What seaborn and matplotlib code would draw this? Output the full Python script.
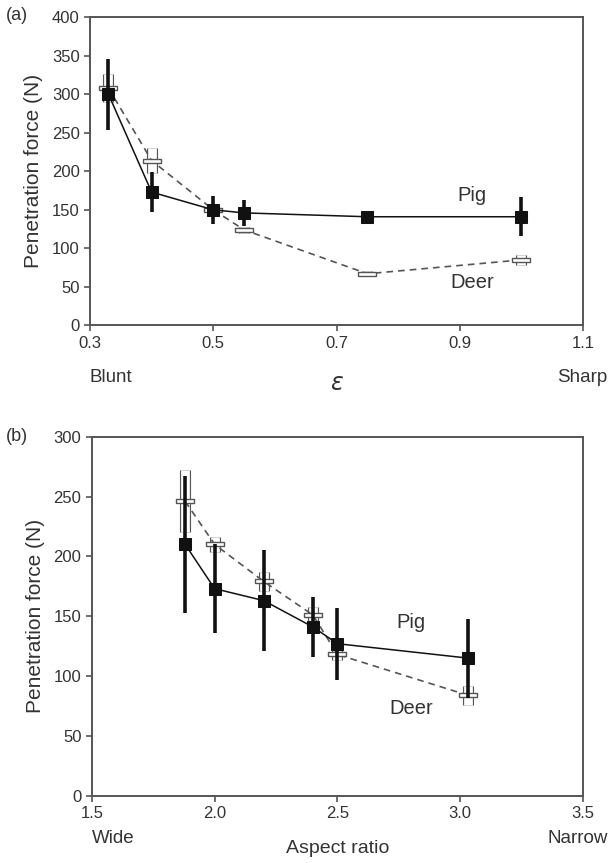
# Penetration force vs. blade sharpness (a) and aspect ratio (b), pig vs deer
import numpy as np
import pandas as pd
import matplotlib
matplotlib.use("Agg")
import matplotlib.pyplot as plt
import seaborn as sns

# Panel (a) data
eps = [0.33, 0.40, 0.50, 0.55, 0.75, 1.00]
pig_a = [300, 173, 150, 146, 141, 141]
pig_a_err = [46, 26, 18, 17, 6, 25]
deer_a = [308, 214, 150, 124, 67, 85]
deer_a_err = [18, 16, 5, 4, 3, 6]

# Panel (b) data
aspect = [1.88, 2.00, 2.20, 2.40, 2.50, 3.03]
pig_b = [210, 173, 163, 141, 127, 115]
pig_b_err = [57, 37, 42, 25, 30, 33]
deer_b = [246, 210, 179, 151, 118, 84]
deer_b_err = [26, 6, 8, 7, 5, 8]

sns.set_style("ticks")
plt.rcParams['font.family'] = ['Liberation Sans', 'DejaVu Sans']

fig = plt.figure(figsize=(6.08, 8.63), dpi=100)
ax_a = fig.add_axes([0.148, 0.623, 0.811, 0.357])
ax_b = fig.add_axes([0.151, 0.078, 0.808, 0.416])

# flat rectangle marker for the deer points
flat_box = [(-1, -0.25), (1, -0.25), (1, 0.25), (-1, 0.25), (-1, -0.25)]
GRAY = "#555555"
TXT = "#333333"


def draw_panel(ax, x, pig, pig_err, deer, deer_err):
    df = pd.DataFrame({"x": x, "pig": pig, "deer": deer})
    # deer: open boxes as error bars, dashed line
    ax.errorbar(x, deer, yerr=deer_err, fmt="none", ecolor=GRAY, elinewidth=8, capsize=0, zorder=2)
    ax.errorbar(x, deer, yerr=deer_err, fmt="none", ecolor="white", elinewidth=6.3, capsize=0, zorder=2.1)
    sns.lineplot(data=df, x="x", y="deer", ax=ax, color=GRAY, lw=1.2, linestyle=(0, (4, 3)),
                 zorder=2.2)
    ax.scatter(x, deer, marker=flat_box, s=160, facecolor="white", edgecolor=GRAY, lw=1, zorder=2.3)
    # pig: filled squares, solid line
    ax.errorbar(x, pig, yerr=pig_err, fmt="none", ecolor="#111111", elinewidth=2.6, capsize=0, zorder=3)
    sns.lineplot(data=df, x="x", y="pig", ax=ax, color="#111111", lw=1.1, marker="s",
                 markersize=9, markeredgecolor="#111111", zorder=3.1)
    ax.set_xlabel("")
    ax.set_ylabel("Penetration force (N)", fontsize=15, color=TXT, labelpad=6)
    for s in ax.spines.values():
        s.set_color(GRAY)
        s.set_linewidth(1.4)
    ax.tick_params(labelsize=12, colors=GRAY, labelcolor=TXT, length=4, width=1.2)


draw_panel(ax_a, eps, pig_a, pig_a_err, deer_a, deer_a_err)
ax_a.set_xlim(0.3, 1.1)
ax_a.set_ylim(0, 400)
ax_a.set_xticks([0.3, 0.5, 0.7, 0.9, 1.1])
ax_a.set_yticks(np.arange(0, 401, 50))
ax_a.text(0.92, 169, "Pig", fontsize=14.5, color=TXT, ha="center", va="center")
ax_a.text(0.92, 55, "Deer", fontsize=14.5, color=TXT, ha="center", va="center")
ax_a.text(0.0, -0.17, "Blunt", transform=ax_a.transAxes, fontsize=13.5, color=TXT, ha="left", va="center")
ax_a.text(1.05, -0.17, "Sharp", transform=ax_a.transAxes, fontsize=13.5, color=TXT, ha="right", va="center")
ax_a.text(0.5, -0.19, r"$\varepsilon$", transform=ax_a.transAxes, fontsize=17, color=TXT,
          ha="center", va="center", family="DejaVu Serif")
fig.text(0.01, 0.982, "(a)", fontsize=13, color=TXT, va="center")

draw_panel(ax_b, aspect, pig_b, pig_b_err, deer_b, deer_b_err)
ax_b.set_xlim(1.5, 3.5)
ax_b.set_ylim(0, 300)
ax_b.set_xticks([1.5, 2.0, 2.5, 3.0, 3.5])
ax_b.set_xticklabels(["1.5", "2.0", "2.5", "3.0", "3.5"])
ax_b.set_yticks(np.arange(0, 301, 50))
ax_b.text(2.80, 145, "Pig", fontsize=14.5, color=TXT, ha="center", va="center")
ax_b.text(2.80, 73, "Deer", fontsize=14.5, color=TXT, ha="center", va="center")
ax_b.text(0.0, -0.12, "Wide", transform=ax_b.transAxes, fontsize=13.5, color=TXT, ha="left", va="center")
ax_b.text(1.05, -0.12, "Narrow", transform=ax_b.transAxes, fontsize=13.5, color=TXT, ha="right", va="center")
ax_b.text(0.5, -0.148, "Aspect ratio", transform=ax_b.transAxes, fontsize=14, color=TXT,
          ha="center", va="center")
fig.text(0.01, 0.494, "(b)", fontsize=13, color=TXT, va="center")

fig.savefig("out.png", dpi=100)
